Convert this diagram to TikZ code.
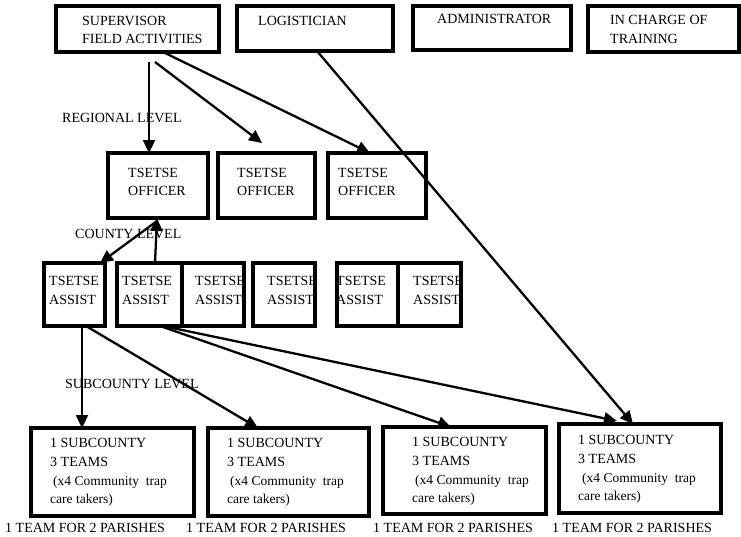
\documentclass[tikz,border=0pt]{standalone}
\usepackage{fontspec}
\setmainfont{Liberation Serif}
\usetikzlibrary{arrows.meta}
\begin{document}
\begin{tikzpicture}[x=1pt,y=-1pt,
  box/.style={draw, line width=3.2pt, rectangle, outer sep=0pt, inner sep=0pt, anchor=north west},
  txt/.style={inner sep=0pt, anchor=base west, font=\fontsize{14}{16}\selectfont},
  sm/.style={inner sep=0pt, anchor=base west, font=\fontsize{13.5}{16}\selectfont},
  arr/.style={line width=2.3pt, -{Triangle[length=13pt,width=12pt]}},
  ln/.style={line width=2.3pt}]
\useasboundingbox (0,0) rectangle (741,536);
\fill[white] (0,0) rectangle (741,536);

% top row
\node[box, minimum width=163pt, minimum height=46pt] (sup) at (56,6) {};
\node[box, minimum width=156pt, minimum height=45pt] (log) at (237,6) {};
\node[box, minimum width=158pt, minimum height=44pt] (adm) at (413,6) {};
\node[box, minimum width=151pt, minimum height=46pt] (trn) at (588,6) {};
\node[txt] (tsup1) at (82,25) {SUPERVISOR};
\node[txt] (tsup2) at (82,43) {FIELD ACTIVITIES};
\node[txt] (tlog) at (258,25) {LOGISTICIAN};
\node[txt] (tadm) at (437,23) {ADMINISTRATOR};
\node[txt] (ttrn1) at (610,24) {IN CHARGE OF};
\node[txt] (ttrn2) at (610,43) {TRAINING};

% officers
\node[box, minimum width=100pt, minimum height=65pt] (o1) at (108,153) {};
\node[box, minimum width=97pt, minimum height=65pt] (o2) at (218,153) {};
\node[box, minimum width=98pt, minimum height=65pt] (o3) at (328,153) {};
\node[txt] (to1a) at (128,177) {TSETSE};
\node[txt] (to1b) at (128,195) {OFFICER};
\node[txt] (to2a) at (237,177) {TSETSE};
\node[txt] (to2b) at (237,195) {OFFICER};
\node[txt] (to3a) at (338,177) {TSETSE};
\node[txt] (to3b) at (338,195) {OFFICER};

% assists
\begin{scope}
\clip (45,264) rectangle (104,325);
\node[txt] (ta1a) at (49,285) {TSETSE};
\node[txt] (ta1b) at (49,304) {ASSIST};
\end{scope}
\begin{scope}
\clip (118,264) rectangle (181,325);
\node[txt] (ta2a) at (122,285) {TSETSE};
\node[txt] (ta2b) at (122,304) {ASSIST};
\end{scope}
\begin{scope}
\clip (183,264) rectangle (243,325);
\node[txt] (ta3a) at (195,285) {TSETSE};
\node[txt] (ta3b) at (195,304) {ASSIST};
\end{scope}
\begin{scope}
\clip (254,264) rectangle (314,325);
\node[txt] (ta4a) at (267,285) {TSETSE};
\node[txt] (ta4b) at (267,304) {ASSIST};
\end{scope}
\begin{scope}
\clip (338,264) rectangle (397,325);
\node[txt] (ta5a) at (336,285) {TSETSE};
\node[txt] (ta5b) at (336,304) {ASSIST};
\end{scope}
\begin{scope}
\clip (399,264) rectangle (460,325);
\node[txt] (ta6a) at (413,285) {TSETSE};
\node[txt] (ta6b) at (413,304) {ASSIST};
\end{scope}
\node[box, minimum width=61pt, minimum height=63pt] (a1) at (44,263) {};
\node[box, minimum width=65pt, minimum height=63pt] (a2) at (117,263) {};
\node[box, minimum width=62pt, minimum height=63pt] (a3) at (182,263) {};
\node[box, minimum width=62pt, minimum height=63pt] (a4) at (253,263) {};
\node[box, minimum width=61pt, minimum height=63pt] (a5) at (337,263) {};
\node[box, minimum width=63pt, minimum height=63pt] (a6) at (398,263) {};

% bottom boxes
\node[box, minimum width=163pt, minimum height=88pt] (b1) at (31,428) {};
\node[box, minimum width=161pt, minimum height=88pt] (b2) at (208,428) {};
\node[box, minimum width=163pt, minimum height=87pt] (b3) at (383,427) {};
\node[box, minimum width=162pt, minimum height=89pt] (b4) at (559,424) {};

\node[txt] (tb1a) at (50,447) {1 SUBCOUNTY};
\node[txt] (tb1b) at (50,466) {3 TEAMS};
\node[sm] (tb1c) at (53,485) {(x4 Community\ \ trap};
\node[sm] (tb1d) at (50,503) {care takers)};
\node[txt] (tb2a) at (227,447) {1 SUBCOUNTY};
\node[txt] (tb2b) at (227,466) {3 TEAMS};
\node[sm] (tb2c) at (230,485) {(x4 Community\ \ trap};
\node[sm] (tb2d) at (227,503) {care takers)};
\node[txt] (tb3a) at (412,446) {1 SUBCOUNTY};
\node[txt] (tb3b) at (412,465) {3 TEAMS};
\node[sm] (tb3c) at (415,484) {(x4 Community\ \ trap};
\node[sm] (tb3d) at (412,502) {care takers)};
\node[txt] (tb4a) at (578,444) {1 SUBCOUNTY};
\node[txt] (tb4b) at (578,463) {3 TEAMS};
\node[sm] (tb4c) at (582,482) {(x4 Community\ \ trap};
\node[sm] (tb4d) at (578,500) {care takers)};

% footers
\node[txt] (f1) at (5,532) {1 TEAM FOR 2 PARISHES};
\node[txt] (f2) at (186,532) {1 TEAM FOR 2 PARISHES};
\node[txt] (f3) at (373,532) {1 TEAM FOR 2 PARISHES};
\node[txt] (f4) at (552,532) {1 TEAM FOR 2 PARISHES};

% level labels
\node[txt] (lreg) at (62,122) {REGIONAL LEVEL};
\node[txt] (lcty) at (75,238) {COUNTY LEVEL};
\node[txt] (lsub) at (65,388) {SUBCOUNTY LEVEL};

% connectors
\draw[arr] ([xshift=93pt,yshift=-10pt]sup.south west) -- ([xshift=41pt]o1.north west);
\draw[arr] ([xshift=99pt,yshift=-10pt]sup.south west) -- ([xshift=44pt,yshift=10pt]o2.north west);
\draw[arr] ([xshift=107pt]sup.south west) -- ([xshift=42pt]o3.north west);
\draw[arr] ([xshift=80pt]log.south west) -- ([xshift=74pt]b4.north west);
\draw[arr] ([xshift=38pt]a2.north west) -- ([xshift=49pt]o1.south west);
\draw[arr] ([xshift=49pt,yshift=-3pt]o1.south west) -- ([xshift=56pt]a1.north west);
\draw[arr] ([xshift=38pt]a1.south west) -- ([xshift=51pt]b1.north west);
\draw[arr] ([xshift=42pt]a1.south west) -- ([xshift=50pt]b2.north west);
\draw[arr] ([xshift=43pt]a2.south west) -- ([xshift=68pt]b3.north west);
\draw[arr] ([xshift=46pt]a2.south west) -- ([xshift=58pt,yshift=3pt]b4.north west);
\end{tikzpicture}
\end{document}
